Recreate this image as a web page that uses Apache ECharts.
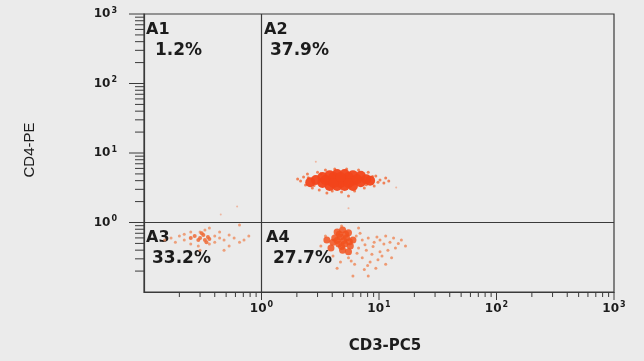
<!DOCTYPE html>
<html>
<head>
<meta charset="utf-8">
<script src="https://cdn.jsdelivr.net/npm/echarts@6/dist/echarts.min.js"></script>
<style>
  html, body {margin: 0; padding: 0; background: #ebebeb;}
  #chart {width: 644px; height: 361px;}
</style>
</head>
<body>
<div id="chart"></div>
<script>
// axis ticks (log scale, decades 10^-1 .. 10^3)
const axisMin = 0.1;
const axisMax = 1000;
const majorTicks = [1, 10, 100, 1000];
const minorTicks = [0.2, 0.3, 0.4, 0.5, 0.6, 0.7, 0.8, 0.9,
    2, 3, 4, 5, 6, 7, 8, 9,
    20, 30, 40, 50, 60, 70, 80, 90,
    200, 300, 400, 500, 600, 700, 800, 900];
const gateX = 1;
const gateY = 1;

// quadrant labels
const quadNames = ['A1', 'A2', 'A3', 'A4'];
const quadPercents = ['1.2%', '37.9%', '33.2%', '27.7%'];

// events [CD3-PC5, CD4-PE]
const a2Core = [[2.9, 4.1], [3.3, 4.5], [3.3, 3.7], [3.8, 4.8], [3.8, 4.0], [3.8, 3.35], [4.4, 5.0], [4.4, 4.1],
    [4.4, 3.35], [5.1, 5.0], [5.1, 4.1], [5.1, 3.35], [6.0, 4.8], [6.0, 4.0], [6.0, 3.35], [7.0, 4.7],
    [7.0, 3.8], [7.8, 4.2], [8.4, 4.0], [2.6, 3.8], [3.5, 4.1], [4.1, 4.5], [4.7, 3.7], [5.5, 4.5],
    [5.5, 3.7], [6.5, 4.2], [4.1, 3.7], [4.7, 4.5]];
const a2Halo = [[2.15, 3.96], [2.28, 4.5], [2.37, 3.47], [2.46, 5.0], [2.71, 3.13], [3.0, 5.3], [3.1, 2.94],
    [3.5, 5.7], [4.0, 2.84], [4.2, 5.9], [4.8, 2.75], [5.3, 5.9], [6.2, 2.84], [6.7, 5.7], [7.5, 3.13],
    [8.1, 5.3], [9.1, 3.35], [9.4, 4.67], [10.2, 4.09], [11.0, 3.7], [11.4, 4.37], [2.03, 4.23], [5.5, 2.4],
    [3.6, 2.66], [12.1, 3.96], [2.5, 4.4], [2.8, 3.4], [3.2, 5.0], [7.8, 3.5], [8.8, 4.6], [9.8, 3.8]];
const a4Core = [[4.4, 0.73], [4.9, 0.78], [5.5, 0.71], [4.2, 0.60], [4.7, 0.62], [5.3, 0.60], [6.0, 0.56],
    [4.55, 0.49], [5.1, 0.49], [5.7, 0.46], [4.9, 0.40], [4.06, 0.52], [5.5, 0.38], [3.6, 0.56], [3.9, 0.43],
    [4.6, 0.68], [5.2, 0.68], [4.4, 0.55], [5.0, 0.55], [5.6, 0.53], [4.8, 0.45]];
const a4Sparse = [[6.4, 0.64], [7.2, 0.56], [8.1, 0.60], [9.1, 0.52], [10.2, 0.56], [11.4, 0.64], [13.3, 0.60],
    [15.5, 0.56], [6.7, 0.43], [7.8, 0.40], [8.7, 0.35], [10.2, 0.38], [11.9, 0.40], [13.8, 0.43], [7.2, 0.31],
    [8.4, 0.27], [9.8, 0.29], [11.4, 0.25], [6.2, 0.25], [7.5, 0.21], [9.4, 0.22], [12.8, 0.31], [5.5, 0.31],
    [4.7, 0.27], [4.06, 0.33], [3.5, 0.64], [3.2, 0.46], [4.8, 0.89], [6.7, 0.83], [6.0, 0.17], [8.1, 0.17],
    [16.8, 0.46], [11.0, 0.49], [4.4, 0.22], [6.9, 0.70], [7.6, 0.48], [8.9, 0.45], [9.6, 0.62], [12.4, 0.52],
    [6.5, 0.36], [10.6, 0.33], [14.6, 0.50], [5.8, 0.28], [8.0, 0.24]];
const a3Core = [[0.27, 0.64], [0.30, 0.60], [0.32, 0.66], [0.33, 0.56], [0.35, 0.62], [0.29, 0.56], [0.36, 0.58],
    [0.25, 0.60], [0.31, 0.70], [0.34, 0.52]];
const a3Sparse = [[0.15, 0.56], [0.17, 0.60], [0.185, 0.52], [0.20, 0.64], [0.22, 0.56], [0.22, 0.68], [0.25, 0.49],
    [0.25, 0.73], [0.29, 0.46], [0.30, 0.73], [0.33, 0.78], [0.36, 0.49], [0.40, 0.64], [0.40, 0.52], [0.44, 0.60],
    [0.44, 0.73], [0.48, 0.56], [0.53, 0.66], [0.53, 0.46], [0.585, 0.60], [0.65, 0.52], [0.71, 0.56], [0.36, 0.83],
    [0.48, 0.40], [0.65, 0.92], [0.30, 0.40], [0.78, 0.64]];
const strays = [[0.45, 1.3], [0.62, 1.7], [2.9, 7.5], [14, 3.2], [5.5, 1.6]];

const chart = echarts.init(document.getElementById('chart'));

const inkColor = '#1c1c1c';
const lineColor = '#3a3a3a';
const supLabel = (v) => '{b|10}{s|' + Math.round(Math.log10(v)) + '}';
const tickRich = {
    b: {fontFamily: 'DejaVu Sans', fontWeight: 'bold', fontSize: 12, color: inkColor},
    s: {fontFamily: 'DejaVu Sans', fontWeight: 'bold', fontSize: 8, color: inkColor, padding: [0, 0, 7, 1]}
};

const logAxis = (extra) => Object.assign({
    type: 'log',
    logBase: 10,
    min: axisMin,
    max: axisMax,
    splitLine: {show: false},
    axisTick: {show: false},
    axisLine: {show: true, lineStyle: {color: lineColor, width: 1.2}}
}, extra);

const dots = (data, size, color, opacity) => ({
    type: 'scatter',
    data: data,
    symbolSize: size,
    itemStyle: {color: color, opacity: opacity},
    silent: true
});

// tick marks drawn at tick values through the axis scales
const tickSeries = (values, dir, len) => ({
    type: 'custom',
    silent: true,
    clip: false,
    data: values.map(v => dir === 'x' ? [v, axisMin] : [axisMin, v]),
    renderItem: (params, api) => {
        const p = api.coord([api.value(0), api.value(1)]);
        const shape = dir === 'x'
            ? {x1: p[0], y1: p[1], x2: p[0], y2: p[1] + len}
            : {x1: p[0], y1: p[1], x2: p[0] - len, y2: p[1]};
        return {type: 'line', shape: shape, style: {stroke: lineColor, lineWidth: 1}};
    }
});

const series = [
    dots(a3Sparse, 3, '#ee8c5e', 0.8),
    dots(a3Core, 4, '#ef6a35', 0.85),
    dots(a4Sparse, 3, '#ee8c5e', 0.85),
    dots(a4Core, 7, '#f2521f', 0.85),
    dots(a2Halo, 3, '#f07040', 0.85),
    dots(a2Core, 10, '#f2441a', 0.95),
    dots(strays, 2, '#f0a080', 0.7),
    tickSeries(majorTicks, 'x', 8),
    tickSeries(minorTicks, 'x', 5),
    tickSeries(majorTicks, 'y', 15),
    tickSeries(minorTicks, 'y', 9)
];
series[0].markLine = {
    silent: true,
    symbol: ['none', 'none'],
    label: {show: false},
    lineStyle: {color: lineColor, width: 1.2, type: 'solid'},
    data: [{xAxis: gateX}, {yAxis: gateY}]
};

const quadPos = [[146, 22, 155, 42], [264, 22, 270, 42], [146, 230, 152, 250], [266, 230, 273, 250]];
const graphics = [];
quadNames.forEach((name, i) => {
    const p = quadPos[i];
    graphics.push({type: 'text', left: p[0], top: p[1],
        style: {text: name, fontFamily: 'DejaVu Sans', fontWeight: 'bold', fontSize: 16, fill: inkColor}});
    graphics.push({type: 'text', left: p[2], top: p[3],
        style: {text: quadPercents[i], fontFamily: 'DejaVu Sans', fontWeight: 'bold', fontSize: 17, fill: inkColor}});
});
graphics.push({type: 'text', x: 30, y: 150, rotation: Math.PI / 2,
    style: {text: 'CD4-PE', fontFamily: 'Liberation Sans', fontSize: 15, fill: inkColor,
        textAlign: 'center', textVerticalAlign: 'middle'}});
graphics.push({type: 'text', x: 385, y: 346,
    style: {text: 'CD3-PC5', fontFamily: 'DejaVu Sans', fontWeight: 'bold', fontSize: 15, fill: inkColor,
        textAlign: 'center', textVerticalAlign: 'middle'}});

chart.setOption({
    backgroundColor: '#ebebeb',
    animation: false,
    grid: {
        left: 144, right: 30, top: 14, bottom: 69,
        show: true, borderColor: lineColor, borderWidth: 1.2, backgroundColor: 'transparent'
    },
    xAxis: logAxis({
        axisLabel: {customValues: majorTicks, margin: 9, formatter: supLabel, rich: tickRich}
    }),
    yAxis: logAxis({
        axisLabel: {customValues: majorTicks, margin: 27, formatter: supLabel, rich: tickRich}
    }),
    graphic: graphics,
    series: series
});
</script>
</body>
</html>
